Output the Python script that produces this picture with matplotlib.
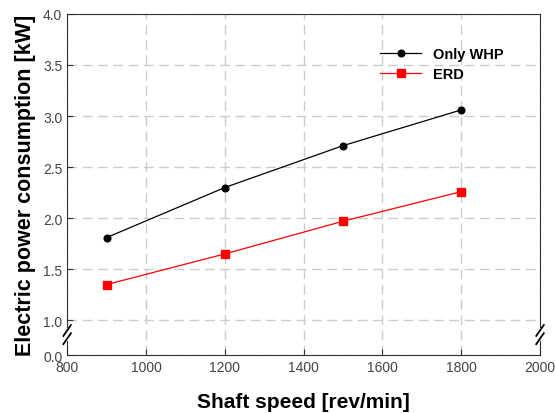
import numpy as np
import matplotlib
matplotlib.use('Agg')
import matplotlib.pyplot as plt

plt.rcParams['font.family'] = ['Liberation Sans', 'DejaVu Sans']

# Data
speed = [900, 1200, 1500, 1800]
only_whp = [1.81, 2.30, 2.71, 3.06]
erd = [1.35, 1.65, 1.97, 2.26]
yticks = [0.0, 1.0, 1.5, 2.0, 2.5, 3.0, 3.5, 4.0]
xticks = [800, 1000, 1200, 1400, 1600, 1800, 2000]

# compressed part of the y axis below 1.0 (axis break)
k = 0.34
def fwd(y):
    y = np.asarray(y, dtype=float)
    return np.where(y >= 1, y, 1 - (1 - y) * k)
def inv(y):
    y = np.asarray(y, dtype=float)
    return np.where(y >= 1, y, 1 - (1 - y) / k)

fig = plt.figure(figsize=(5.55, 4.14), dpi=100)
ax = fig.add_axes([0.121, 0.140, 0.852, 0.824])
ax.set_yscale('function', functions=(fwd, inv))

ax.plot(speed, only_whp, '-o', color='black', lw=0.9, ms=4.8, label='Only WHP')
ax.plot(speed, erd, '-s', color='#ff0000', lw=0.9, ms=6, label='ERD')

ax.set_xlim(800, 2000)
ax.set_ylim(0, 4)
ax.set_xticks(xticks)
ax.set_yticks(yticks)
ax.set_yticklabels(['%.1f' % t for t in yticks])
ax.tick_params(direction='in', length=4, labelsize=10, labelcolor='#444444', color='#333333')
ax.grid(True, ls=(0, (7, 4)), color='#cccccc', lw=1)
for s in ax.spines.values():
    s.set_color('#333333')

ax.set_xlabel('Shaft speed [rev/min]', fontsize=15, fontweight='bold', labelpad=13)
ax.set_ylabel('Electric power consumption [kW]', fontsize=15.5, fontweight='bold', labelpad=5)

leg = ax.legend(loc='upper right', bbox_to_anchor=(0.95, 0.94), frameon=False,
                prop={'size': 10.5, 'weight': 'bold'}, handlelength=2.8, labelspacing=0.4)

# break marks on both side spines
yb = 0.06
for xb in (0, 1):
    ax.plot([xb, xb], [yb - 0.012, yb + 0.012], color='white', lw=3,
            transform=ax.transAxes, clip_on=False, zorder=5)
    for dy in (-0.012, 0.012):
        ax.plot([xb - 0.008, xb + 0.008], [yb + dy - 0.016, yb + dy + 0.016],
                color='black', lw=1.3, transform=ax.transAxes, clip_on=False, zorder=6)

fig.savefig('out.png', dpi=100)
